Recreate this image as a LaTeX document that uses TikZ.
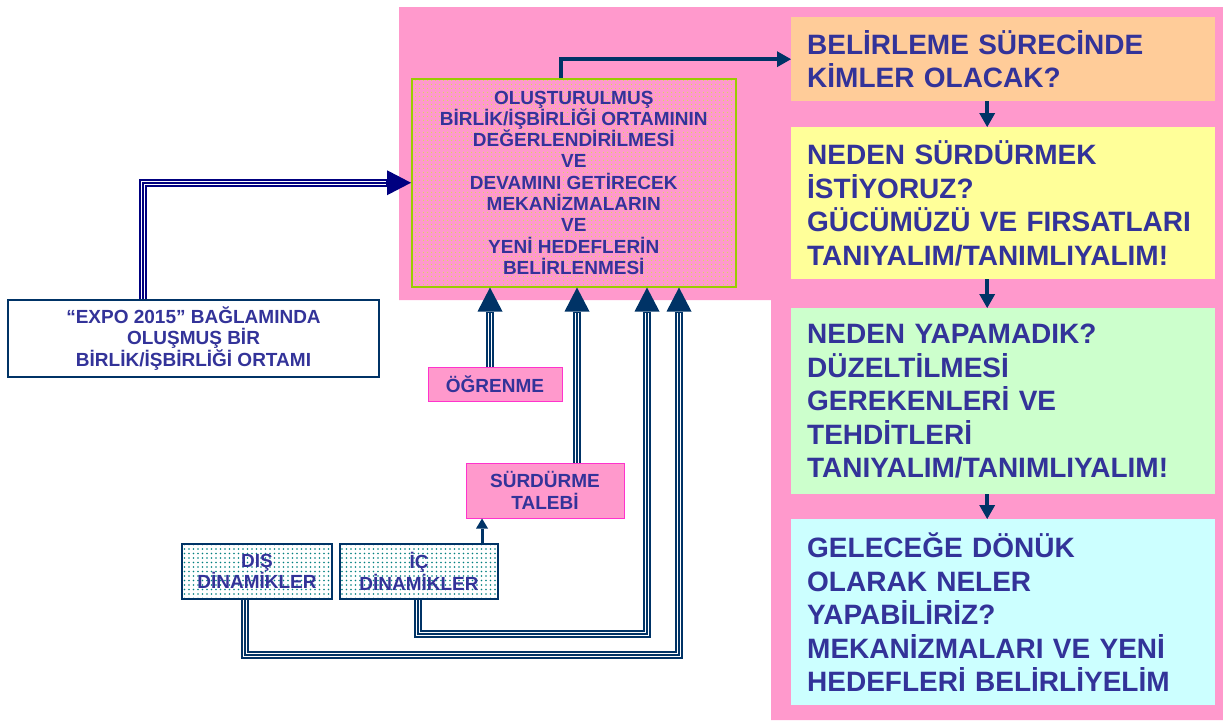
\documentclass[tikz,border=0pt]{standalone}
\usepackage{fontspec}
\setmainfont{Liberation Sans}
\usetikzlibrary{arrows.meta,patterns.meta}

\definecolor{pinkbg}{HTML}{FF99CC}
\definecolor{navyline}{HTML}{003366}
\definecolor{navyblue}{HTML}{000080}
\definecolor{textblue}{HTML}{333399}
\definecolor{boxgreen}{HTML}{99CC00}
\definecolor{magentaline}{HTML}{FF33CC}
\definecolor{dotgreen}{HTML}{CCEE33}
\definecolor{dotteal}{HTML}{008080}
\definecolor{qorange}{HTML}{FFCC99}
\definecolor{qyellow}{HTML}{FFFF99}
\definecolor{qgreen}{HTML}{CCFFCC}
\definecolor{qcyan}{HTML}{CCFFFF}

\begin{document}
\begin{tikzpicture}[x=1pt, y=-1pt,
  small/.style={font=\bfseries\fontsize{19}{21.3}\selectfont, text=textblue, align=center, inner sep=0pt},
  mainbox/.style={small, draw=boxgreen, line width=1.5pt, preaction={fill=pinkbg}, pattern={Dots[distance=4pt,radius=0.6pt]}, pattern color=dotgreen},
  tagbox/.style={small, draw=magentaline, line width=1pt, fill=pinkbg},
  dynbox/.style={small, draw=navyline, line width=1.5pt, preaction={fill=white}, pattern={Dots[distance=4.5pt,radius=0.8pt]}, pattern color=dotteal},
  qbox/.style={font=\bfseries\fontsize{28}{33.5}\selectfont, text=textblue, align=left, text width=392pt, inner xsep=16pt, minimum width=424pt, anchor=north west},
  tline/.style={line width=8pt, draw=#1, -{Triangle[width=25pt,length=24pt,line width=0pt]},
    postaction={draw=white, line width=4.5pt, -, shorten >=25pt},
    postaction={draw=#1, line width=1.5pt, -, shorten >=25pt}},
  tline/.default=navyline,
  arrow/.style={line width=4pt, draw=navyline, -{Triangle[width=16pt,length=14pt,line width=0pt]}}
]
\useasboundingbox (0,0) rectangle (1223,720);

% pink background behind the main box and the questions
\fill[pinkbg] (399,7) -- (1223,7) -- (1223,720) -- (771,720) -- (771,300) -- (399,300) -- cycle;

% main box
\node[mainbox, minimum width=324pt, minimum height=208pt, anchor=north west] (mbox) at (411,78)
  {OLUŞTURULMUŞ\\BİRLİK/İŞBİRLİĞİ ORTAMININ\\DEĞERLENDİRİLMESİ\\VE\\DEVAMINI GETİRECEK\\MEKANİZMALARIN\\VE\\YENİ HEDEFLERİN\\BELİRLENMESİ};

% the four questions
\node[qbox, fill=qorange, minimum height=84pt] (q1) at (791,17) {BELİRLEME SÜRECİNDE\\KİMLER OLACAK?};
\node[qbox, fill=qyellow, minimum height=152pt] (q2) at (791,127) {NEDEN SÜRDÜRMEK\\İSTİYORUZ?\\GÜCÜMÜZÜ VE FIRSATLARI\\TANIYALIM/TANIMLIYALIM!};
\node[qbox, fill=qgreen, minimum height=186pt] (q3) at (791,308) {NEDEN YAPAMADIK?\\DÜZELTİLMESİ\\GEREKENLERİ VE\\TEHDİTLERİ\\TANIYALIM/TANIMLIYALIM!};
\node[qbox, fill=qcyan, minimum height=186pt] (q4) at (791,519) {GELECEĞE DÖNÜK\\OLARAK NELER\\YAPABİLİRİZ?\\MEKANİZMALARI VE YENİ\\HEDEFLERİ BELİRLİYELİM};

% inputs
\node[small, draw=navyline, line width=1.2pt, fill=white, minimum width=371pt, minimum height=77pt] (expo) at (193.5,338.5)
  {“EXPO 2015” BAĞLAMINDA\\OLUŞMUŞ BİR\\BİRLİK/İŞBİRLİĞİ ORTAMI};
\node[tagbox, minimum width=134pt, minimum height=34pt] (ogr) at (495,384) {ÖĞRENME};
\node[tagbox, minimum width=158pt, minimum height=55pt] (sur) at (545,490.5) {SÜRDÜRME\\TALEBİ};
\node[dynbox, minimum width=150pt, minimum height=55pt] (dis) at (257,571.5) {DIŞ\\DİNAMİKLER};
\node[dynbox, minimum width=158pt, minimum height=55pt] (ic) at (419,571.5) {İÇ\\DİNAMİKLER};

% bends of the long lines
\coordinate (icbend) at (647,634);
\coordinate (disbend) at (679,655);

% links
\draw[arrow] ([xshift=-13pt]mbox.north) |- (q1);
\foreach \a/\b in {q1/q2, q2/q3, q3/q4}
    \draw[arrow] ([xshift=-16pt]\a.south) -- ([xshift=-16pt]\b.north);

\draw[tline=navyblue] ([xshift=-50.5pt]expo.north) |- (mbox.west);
\draw[tline] ([xshift=-5pt]ogr.north) -- ([xshift=-5pt]ogr.north |- mbox.south);
\draw[tline] ([xshift=32pt]sur.north) -- ([xshift=32pt]sur.north |- mbox.south);
\draw[tline] ([xshift=-1pt]ic.south) |- (icbend) -- (icbend |- mbox.south);
\draw[tline] ([xshift=-12pt]dis.south) |- (disbend) -- (disbend |- mbox.south);
\draw[line width=3pt, draw=navyline, -{Triangle[width=12pt,length=10pt,line width=0pt]}]
    ([xshift=63pt]ic.north) -- ([xshift=63pt]ic.north |- sur.south);
\end{tikzpicture}
\end{document}
